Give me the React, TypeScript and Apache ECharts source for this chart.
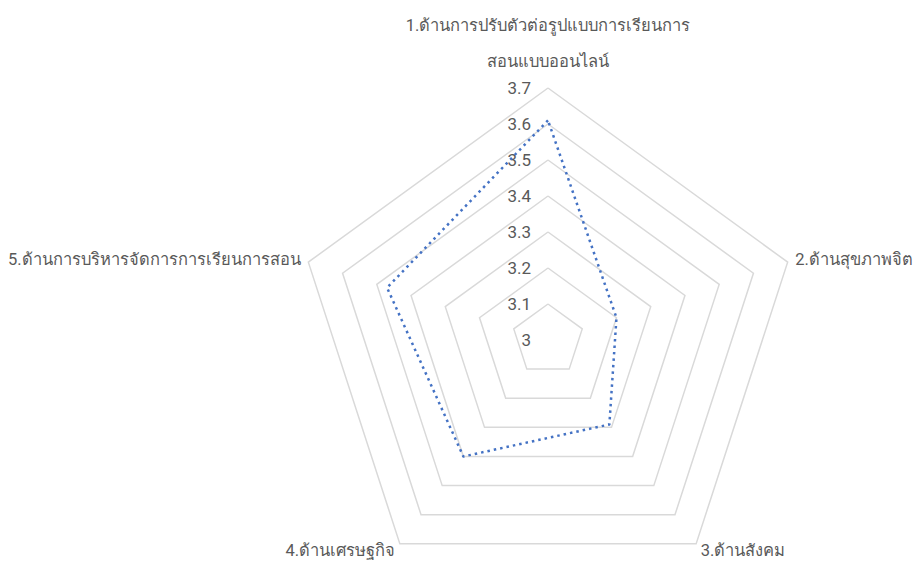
import React, { useEffect, useRef } from "react";
import * as echarts from "echarts";

const indicatorNames = [
  "1.ด้านการปรับตัวต่อรูปแบบการเรียนการ\nสอนแบบออนไลน์",
  "2.ด้านสุขภาพจิต",
  "3.ด้านสังคม",
  "4.ด้านเศรษฐกิจ",
  "5.ด้านการบริหารจัดการการเรียนการสอน",
];
const seriesValues = [3.61, 3.2, 3.29, 3.4, 3.47];
const axisMin = 3;
const axisMax = 3.7;
const splitCount = 7;

// ECharts lays radar axes counter-clockwise; the reference goes clockwise.
const order = [0, 4, 3, 2, 1];

export default function App() {
  const ref = useRef<HTMLDivElement>(null);
  useEffect(() => {
    if (!ref.current) return;
    const chart = echarts.init(ref.current, undefined, { renderer: "svg" });
    const font = "Roboto, 'Noto Sans', sans-serif";
    chart.setOption({
      animation: false,
      backgroundColor: "#ffffff",
      radar: {
        center: [548, 340],
        radius: 252,
        startAngle: 90,
        splitNumber: splitCount,
        shape: "polygon",
        axisName: {
          color: "#595959",
          fontSize: 16.5,
          fontFamily: font,
          lineHeight: 36,
        },
        nameGap: 8,
        axisLine: { show: false },
        axisTick: { show: false },
        axisLabel: { show: false },
        splitLine: { lineStyle: { color: "#d9d9d9", width: 1.5 } },
        splitArea: { show: false },
        indicator: order.map((idx, i) => ({
          name: indicatorNames[idx],
          min: axisMin,
          max: axisMax,
          ...(i === 0
            ? {
                axisLabel: {
                  show: true,
                  color: "#595959",
                  fontSize: 17,
                  fontFamily: font,
                  margin: 17,
                  showMinLabel: true,
                  showMaxLabel: true,
                  formatter: (v: number) => String(Math.round(v * 10) / 10),
                },
              }
            : {}),
        })),
      },
      series: [
        {
          type: "radar",
          symbol: "none",
          lineStyle: { color: "#4472C4", width: 2.5, type: [2.5, 4] },
          data: [{ value: order.map((idx) => seriesValues[idx]), name: "ค่าเฉลี่ย" }],
        },
      ],
    });
    return () => chart.dispose();
  }, []);
  return (
    <div
      ref={ref}
      style={{ position: "fixed", left: 0, top: 0, width: 917, height: 561 }}
    />
  );
}
